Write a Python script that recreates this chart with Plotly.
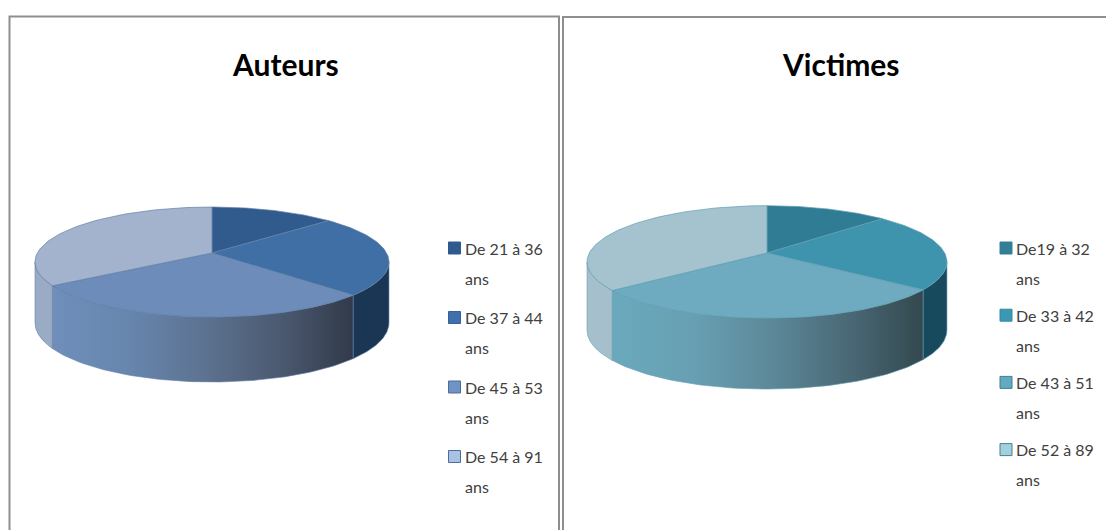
import math
import plotly.graph_objects as go

# ---- data ----
titles = ["Auteurs", "Victimes"]
labels_auteurs = ["De 21 à 36 ans", "De 37 à 44 ans", "De 45 à 53 ans", "De 54 à 91 ans"]
labels_victimes = ["De19 à 32 ans", "De 33 à 42 ans", "De 43 à 51 ans", "De 52 à 89 ans"]
values_auteurs = [13.3, 24.0, 28.3, 34.4]
values_victimes = [12.8, 22.6, 29.0, 35.6]

colors_auteurs = ["#315b8c", "#406fa5", "#6d8cb9", "#a3b3cd"]
colors_victimes = ["#2f7c94", "#3e94ad", "#6eabc0", "#a5c3cf"]
legend_auteurs = ["#2f5a90", "#3f70ad", "#6f93c4", "#a9c1e4"]
legend_victimes = ["#327f97", "#3c97b2", "#62aac0", "#a3d0df"]
legend_edge_auteurs = ["#2f5a90", "#35619a", "#4d6c96", "#4d6c96"]
legend_edge_victimes = ["#327f97", "#328aa4", "#3f7f92", "#4a7f8f"]

FONT = "Lato"


def project(pie, theta, drop=0.0):
    """Circle angle (clockwise from the back) to the page, with perspective."""
    u, v = math.sin(theta), -math.cos(theta)
    s = 1.0 / (1.0 - pie["p"] * v)
    x = pie["cx"] + pie["A"] * u * s
    y = pie["cy"] + pie["B"] * v * s
    if drop:
        y += drop * (pie["depth"] + pie["depth_front"] * v)
    return x, y


def arc(pie, a, b, drop=0.0, n=70):
    pts = [project(pie, a + (b - a) * i / n, drop) for i in range(n + 1)]
    return [p[0] for p in pts], [p[1] for p in pts]


def add_pie(fig, pie, labels, values, colors, sides, name):
    total = sum(values)
    edges = [0.0]
    for val in values:
        edges.append(edges[-1] + val / total * 2 * math.pi)

    # silhouette tangents of the perspective ellipse
    th_r = math.acos(-pie["p"])
    th_l = 2 * math.pi - th_r

    # sides
    for i in range(4):
        a, b = max(edges[i], th_r), min(edges[i + 1], th_l)
        if b <= a:
            continue
        xt, yt = arc(pie, a, b)
        xb, yb = arc(pie, b, a, drop=1.0)
        kw = dict(
            x=xt + xb + [xt[0]], y=yt + yb + [yt[0]], mode="lines", fill="toself",
            line=dict(color=pie["edge"], width=0.6), hoverinfo="skip", showlegend=False,
        )
        side = sides[i]
        if isinstance(side, list):
            kw["fillgradient"] = dict(
                type="horizontal",
                colorscale=[[k / (len(side) - 1), c] for k, c in enumerate(side)],
            )
        else:
            kw["fillcolor"] = side
        fig.add_trace(go.Scatter(**kw))

    # top
    for i in range(4):
        xa, ya = arc(pie, edges[i], edges[i + 1])
        fig.add_trace(go.Scatter(
            x=[pie["cx"]] + xa + [pie["cx"]], y=[pie["cy"]] + ya + [pie["cy"]],
            mode="lines", fill="toself", fillcolor=colors[i],
            line=dict(color=pie["edge"], width=0.7),
            name=labels[i], text=f"{name} – {labels[i]}: {values[i]}%", hoverinfo="text",
            showlegend=False,
        ))


pie_a = dict(cx=212, cy=253, A=174.6, B=53.5, p=0.1636, depth=60, depth_front=5, edge="#5f7fa8")
pie_v = dict(cx=767, cy=253, A=177.7, B=54.8, p=0.1577, depth=68, depth_front=3, edge="#5f9db0")

sides_a = ["#1c3a5c", "#1b3654",
           ["#6f8eba", "#6786ae", "#5d7391", "#4c5a72", "#323a4a"], "#9aabc6"]
sides_v = ["#1d5467", "#164a5c",
           ["#6aa9bd", "#68a0b3", "#5d8a9b", "#4b6a78", "#33484e"], "#a5c0cc"]

fig = go.Figure()
add_pie(fig, pie_a, labels_auteurs, values_auteurs, colors_auteurs, sides_a, titles[0])
add_pie(fig, pie_v, labels_victimes, values_victimes, colors_victimes, sides_v, titles[1])

annotations = []


def add_legend(labels, fills, edges, sq_x, text_x, y0, step):
    ys = [y0 + step * i for i in range(len(labels))]
    fig.add_trace(go.Scatter(
        x=[sq_x] * len(ys), y=ys, mode="markers", hoverinfo="skip", showlegend=False,
        marker=dict(symbol="square", size=12, color=fills, line=dict(color=edges, width=1)),
    ))
    for lab, y in zip(labels, ys):
        head, tail = lab.rsplit(" ", 1)
        annotations.append(dict(x=text_x, y=y, text=head, xanchor="left", yanchor="middle",
                                showarrow=False, font=dict(family=FONT, size=16, color="#404040")))
        annotations.append(dict(x=text_x, y=y + 30, text=tail, xanchor="left", yanchor="middle",
                                showarrow=False, font=dict(family=FONT, size=16, color="#404040")))


add_legend(labels_auteurs, legend_auteurs, legend_edge_auteurs, 454.5, 463, 248, 69.5)
add_legend(labels_victimes, legend_victimes, legend_edge_victimes, 1006, 1014, 248, 67.2)

for text, x in zip(titles, [285, 841]):
    annotations.append(dict(x=x, y=64, text=f"<b>{text}</b>", xanchor="center", yanchor="middle",
                            showarrow=False, font=dict(family=FONT, size=30, color="#000000")))

frame = dict(color="#8e8e8e", width=2)
shapes = [
    dict(type="rect", x0=9.5, x1=559, y0=16.5, y1=540, line=frame, layer="below"),
    dict(type="rect", x0=563, x1=1120, y0=17, y1=540, line=frame, layer="below"),
]

fig.update_layout(
    width=1106, height=530, autosize=False,
    margin=dict(l=0, r=0, t=0, b=0),
    paper_bgcolor="white", plot_bgcolor="white",
    xaxis=dict(range=[0, 1106], visible=False, fixedrange=True),
    yaxis=dict(range=[530, 0], visible=False, fixedrange=True),
    annotations=annotations, shapes=shapes, showlegend=False,
)
fig.write_html("out.html", config={"displayModeBar": False},
               post_script="document.body.style.margin='0';document.body.style.overflow='hidden';")
